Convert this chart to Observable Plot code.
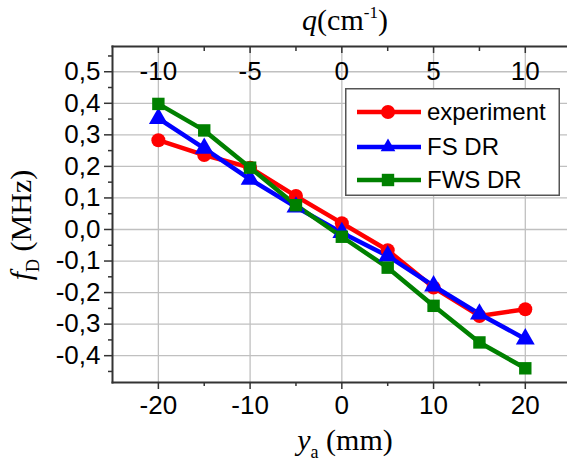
<!DOCTYPE html>
<html>
<head>
<meta charset="utf-8">
<script src="https://cdn.jsdelivr.net/npm/d3@7"></script>
<script src="https://cdn.jsdelivr.net/npm/@observablehq/plot@0.6"></script>
<style>
  html, body { margin: 0; padding: 0; background: #fff; }
  #wrap { position: relative; width: 567px; height: 461px; overflow: hidden; }
  #legend { position: absolute; left: 345px; top: 88px; }
</style>
</head>
<body>
<div id="wrap"></div>
<script>
// ---- data ----
const ya = [-20, -15, -10, -5, 0, 5, 10, 15, 20];
const experiment = [0.283, 0.236, 0.196, 0.106, 0.020, -0.066, -0.184, -0.274, -0.253];
const fsDR = [0.352, 0.257, 0.159, 0.071, -0.010, -0.084, -0.179, -0.268, -0.347];
const fwsDR = [0.398, 0.314, 0.196, 0.077, -0.023, -0.121, -0.242, -0.358, -0.440];
const seriesNames = ["experiment", "FS DR", "FWS DR"];
const seriesColors = ["#ff0000", "#0000ff", "#008000"];
const seriesSymbols = ["circle", "triangle", "square"];

const xTicks = [-20, -10, 0, 10, 20];
const xMinor = [-15, -5, 5, 15];
const qTicks = [-10, -5, 0, 5, 10];      // top axis, q = ya / 2
const qMinor = [-7.5, -2.5, 2.5, 7.5];
const yTicks = [-0.4, -0.3, -0.2, -0.1, 0, 0.1, 0.2, 0.3, 0.4, 0.5];
const yMinor = [-0.45, -0.35, -0.25, -0.15, -0.05, 0.05, 0.15, 0.25, 0.35, 0.45, 0.55];
const qPerMm = 0.5;

// ---- table ----
const allValues = [experiment, fsDR, fwsDR];
const rows = [];
seriesNames.forEach((s, i) => ya.forEach((x, j) => rows.push({series: s, x, y: allValues[i][j]})));

const fmt = d => d.toFixed(1).replace(".", ",");
const blank = () => "";
const FONT = "Liberation Sans, Arial, sans-serif";
const grid = "#c0c0c0";
const axisColor = "#333";
const markerR = 7;
const tickFont = 26;

const chart = Plot.plot({
  width: 567,
  height: 461,
  marginLeft: 112,
  marginRight: 0,
  marginTop: 46,
  marginBottom: 79,
  style: {fontFamily: FONT, fontSize: tickFont + "px", background: "transparent", color: "#000"},
  x: {domain: [-25, 24.6], label: null},
  y: {domain: [-0.485, 0.58], label: null},
  color: {domain: seriesNames, range: seriesColors},
  symbol: {domain: seriesNames, range: seriesSymbols},
  marks: [
    Plot.ruleX(xTicks, {stroke: grid, strokeWidth: 1.3}),
    Plot.ruleY(yTicks, {stroke: grid, strokeWidth: 1.3}),
    Plot.frame({anchor: "left", stroke: axisColor, strokeWidth: 2}),
    Plot.frame({anchor: "bottom", stroke: axisColor, strokeWidth: 2}),
    Plot.frame({anchor: "top", stroke: axisColor, strokeWidth: 2}),
    // left axis
    Plot.axisY({ticks: yTicks, tickSize: 8, tickPadding: 4, tickFormat: fmt, fontSize: tickFont, stroke: axisColor, strokeWidth: 1.5, label: null}),
    Plot.axisY({ticks: yMinor, tickSize: 4, tickFormat: blank, stroke: axisColor, strokeWidth: 1.5, label: null}),
    // bottom axis
    Plot.axisX({ticks: xTicks, tickSize: 7, tickPadding: 6, tickFormat: d => String(d), fontSize: tickFont, stroke: axisColor, strokeWidth: 1.5, label: null}),
    Plot.axisX({ticks: xMinor, tickSize: 4, tickFormat: blank, stroke: axisColor, strokeWidth: 1.5, label: null}),
    // top axis (q), ticks inward, labels inside
    Plot.axisX({anchor: "top", ticks: qTicks.map(q => q / qPerMm), tickSize: -6, tickFormat: blank, stroke: axisColor, strokeWidth: 1.5, label: null}),
    Plot.axisX({anchor: "top", ticks: qMinor.map(q => q / qPerMm), tickSize: -4, tickFormat: blank, stroke: axisColor, strokeWidth: 1.5, label: null}),
    Plot.text(qTicks, {x: q => q / qPerMm, frameAnchor: "top", text: q => String(q), dy: 15, fontSize: tickFont, fill: "#000"}),
    // data
    Plot.line(rows, {x: "x", y: "y", z: "series", stroke: "series", strokeWidth: 4.5}),
    Plot.dot(rows, {x: "x", y: "y", fill: "series", symbol: "series", r: markerR, stroke: "none"})
  ]
});

const wrap = document.getElementById("wrap");
wrap.appendChild(chart);

const svg = d3.select(chart);
const SERIF = "Liberation Serif, Times New Roman, serif";

// top title q(cm^-1)
const tq = svg.append("text").attr("x", 345).attr("y", 30).attr("text-anchor", "middle")
  .attr("font-family", SERIF).attr("font-size", 30).attr("fill", "#000");
tq.append("tspan").attr("font-style", "italic").text("q");
tq.append("tspan").text("(cm");
tq.append("tspan").attr("font-size", 17).attr("dy", -12).text("-1");
tq.append("tspan").attr("dy", 12).text(")");

// bottom title y_a (mm)
const tx = svg.append("text").attr("x", 345).attr("y", 450).attr("text-anchor", "middle")
  .attr("font-family", SERIF).attr("font-size", 30).attr("fill", "#000");
tx.append("tspan").attr("font-style", "italic").text("y");
tx.append("tspan").attr("font-size", 18).attr("dy", 8).text("a");
tx.append("tspan").attr("dy", -8).text(" (mm)");

// left title f_D (MHz)
const ty = svg.append("text").attr("transform", "translate(31,225) rotate(-90)").attr("text-anchor", "middle")
  .attr("font-family", SERIF).attr("font-size", 30).attr("fill", "#000");
ty.append("tspan").attr("font-style", "italic").text("f");
ty.append("tspan").attr("font-size", 18).attr("dy", 8).text("D");
ty.append("tspan").attr("dy", -8).text(" (MHz)");

// legend (overlay)
const lw = 215, lh = 108;
const leg = d3.select(wrap).append("svg").attr("id", "legend").attr("width", lw).attr("height", lh);
leg.append("rect").attr("x", 0.75).attr("y", 0.75).attr("width", lw - 1.5).attr("height", lh - 1.5)
  .attr("fill", "#fff").attr("stroke", "#555").attr("stroke-width", 1.5);
const symMap = {circle: d3.symbolCircle, triangle: d3.symbolTriangle2 || d3.symbolTriangle, square: d3.symbolSquare};
const rowY = [24, 59, 92];
seriesNames.forEach((name, i) => {
  const g = leg.append("g").attr("transform", `translate(0,${rowY[i]})`);
  g.append("line").attr("x1", 12).attr("x2", 76).attr("y1", 0).attr("y2", 0)
    .attr("stroke", seriesColors[i]).attr("stroke-width", 4.5);
  g.append("path").attr("transform", "translate(43,0)")
    .attr("d", d3.symbol(symMap[seriesSymbols[i]], Math.PI * markerR * markerR)())
    .attr("fill", seriesColors[i]);
  g.append("text").attr("x", 82).attr("y", 0).attr("dy", "0.35em")
    .attr("font-family", FONT).attr("font-size", 24).attr("fill", "#000").text(name);
});
</script>
</body>
</html>
